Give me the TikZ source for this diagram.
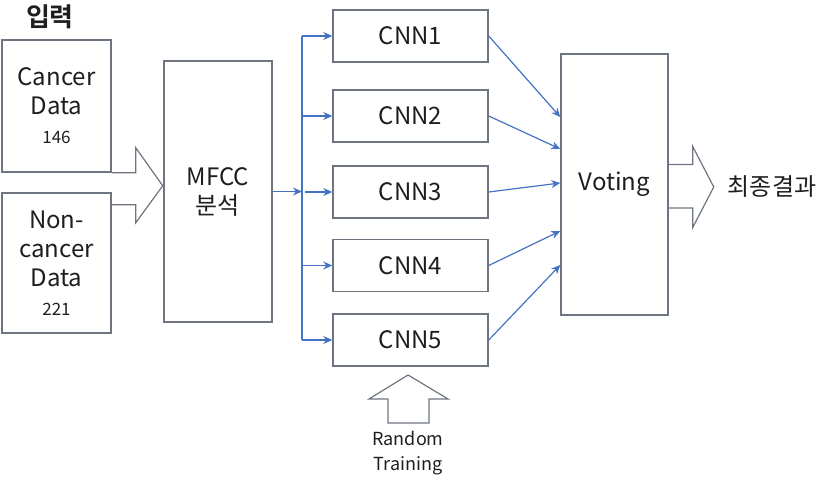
\documentclass[tikz,border=0pt]{standalone}
\usepackage{fontspec}
\setmainfont{Noto Sans CJK KR}[BoldFont={Noto Sans CJK KR Bold}]
\usetikzlibrary{positioning, arrows.meta, calc}
\definecolor{myblue}{HTML}{4472C4}
\definecolor{mygray}{HTML}{6E7581}
\definecolor{mytext}{HTML}{1E1E1E}

\begin{document}
\begin{tikzpicture}
[x=0.5pt, y=-0.5pt,
 box/.style={rectangle, draw=mygray, line width=0.75pt, inner sep=0pt, align=center,
   text=mytext, font=\fontsize{12}{14.5}\selectfont},
 cnn/.style={box, minimum width=77.5pt, minimum height=26pt},
 fat/.style={draw=mygray, line width=0.6pt, line join=miter},
 ->/.style={draw=myblue, line width=0.6pt, arrows={-Stealth[length=4.5pt, width=4pt]}},
 every text node part/.style={align=center}]

\useasboundingbox (0,0) rectangle (827,481);

% input data
\node[text=mytext, font=\bfseries\fontsize{13}{15}\selectfont] (title) at (50,17) {입력};
\node[box, minimum width=54.5pt, minimum height=66pt] (cancer) at (56.5,106)
  {Cancer\\Data\\{\fontsize{8.5}{10}\selectfont 146}};
\node[box, minimum width=54.5pt, minimum height=70pt] (noncancer) at (56.5,263)
  {Non-\\cancer\\Data\\{\fontsize{8.5}{10}\selectfont 221}};

% feature extraction
\node[box, minimum width=54pt, minimum height=130.5pt] (mfcc) at (218,191.5) {MFCC\\분석};

% five networks
\node[cnn] (cnn1) at (410.5,36) {CNN1};
\node[cnn] (cnn2) at (410.5,116) {CNN2};
\node[cnn] (cnn3) at (410.5,192) {CNN3};
\node[cnn] (cnn4) at (410.5,265.5) {CNN4};
\node[cnn] (cnn5) at (410.5,340) {CNN5};

% voting and result
\node[box, minimum width=53.5pt, minimum height=130.5pt] (voting) at (614.5,184.5) {Voting};
\node[text=mytext, font=\fontsize{12}{14.5}\selectfont] (result) at (772,187) {최종결과};
\node[text=mytext, font=\fontsize{9}{12.5}\selectfont] (rnd) at (408,453) {Random\\Training};

% block arrows
\draw[fat] (cancer.south east) -- ++(24,0) -- ++(0,-25) -- ++(27,38) -- ++(-27,37)
  -- ++(0,-18) -- ++(-24,0);
\draw[fat] ($(voting.east)+(0,-20)$) -- ++(24,0) -- ++(0,-18) -- ++(21,40.5)
  -- ++(-21,40.5) -- ++(0,-19.5) -- ++(-24,0);
\coordinate (tip) at (408,375);
\draw[fat] (tip) -- ++(40,24) -- ++(-19,0) -- ++(0,24) -- ++(-41,0) -- ++(0,-24)
  -- ++(-19,0) -- cycle;

% split to the networks
\coordinate (bustop) at (302,36);
\coordinate (busbot) at (302,340);
\draw[myblue, line width=0.6pt] (bustop) -- (busbot);
\draw[->] (mfcc.east) -- (mfcc.east -| bustop);
\draw[->] (bustop |- cnn1.west) -- (cnn1.west);
\draw[->] (bustop |- cnn2.west) -- (cnn2.west);
\draw[->] ($(bustop |- cnn3.west)+(3,0)$) -- (cnn3.west);
\draw[->] (bustop |- cnn4.west) -- (cnn4.west);
\draw[->] (bustop |- cnn5.west) -- (cnn5.west);

% networks to voting
\draw[->] (cnn1.east) -- ($(voting.west)+(0,-67.5)$);
\draw[->] (cnn2.east) -- ($(voting.west)+(0,-35.5)$);
\draw[->] (cnn3.east) -- ($(voting.west)+(0,-1.5)$);
\draw[->] (cnn4.east) -- ($(voting.west)+(0,46.5)$);
\draw[->] (cnn5.east) -- ($(voting.west)+(0,80.5)$);

\end{tikzpicture}
\end{document}
